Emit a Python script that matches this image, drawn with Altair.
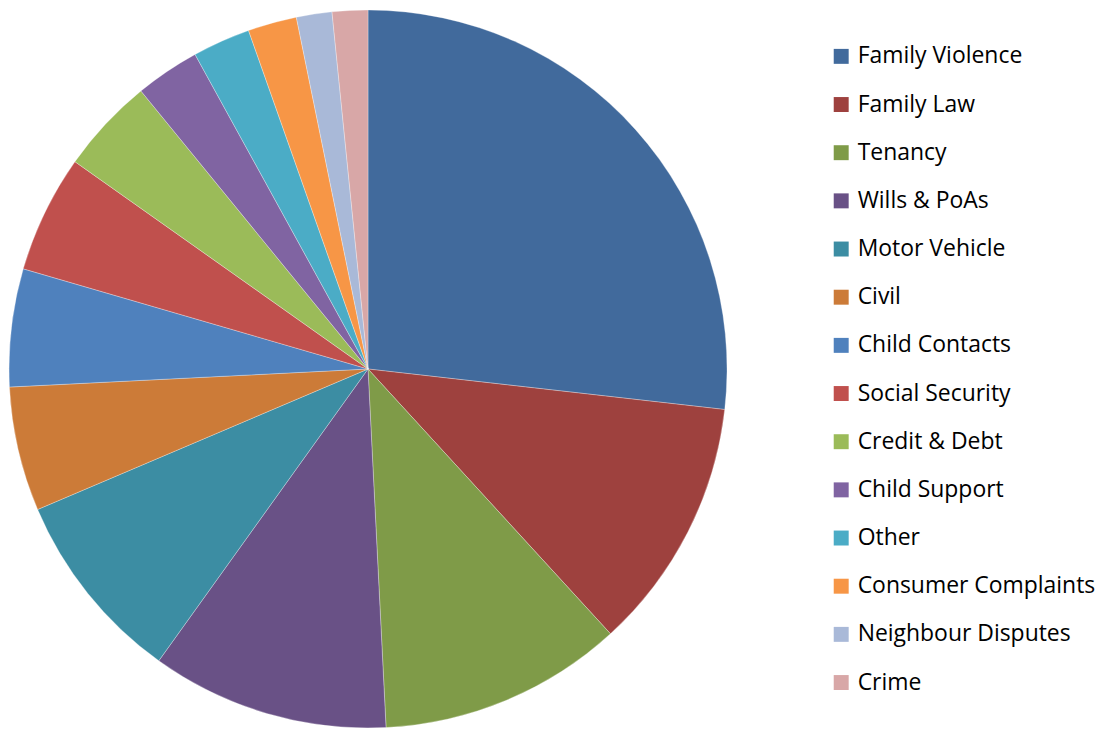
import altair as alt
import pandas as pd

categories = ["Family Violence", "Family Law", "Tenancy", "Wills & PoAs", "Motor Vehicle",
              "Civil", "Child Contacts", "Social Security", "Credit & Debt", "Child Support",
              "Other", "Consumer Complaints", "Neighbour Disputes", "Crime"]
values = [26.8, 11.4, 11.0, 10.7, 8.7, 5.6, 5.3, 5.3, 4.3, 2.9, 2.6, 2.2, 1.6, 1.6]
colors = ["#416A9C", "#9E413E", "#7F9B48", "#695186", "#3C8DA3", "#CC7B38", "#4F81BD",
          "#C0504D", "#9BBB59", "#8064A2", "#4BACC6", "#F79646", "#A9B9D8", "#D8A7A7"]

df = pd.DataFrame({"category": categories, "value": values, "idx": list(range(len(categories)))})

chart = alt.Chart(df).mark_arc(outerRadius=360, stroke="white", strokeWidth=0.3).encode(
    theta=alt.Theta("value:Q", stack=True),
    order=alt.Order("idx:Q"),
    color=alt.Color("category:N",
                    scale=alt.Scale(domain=categories, range=colors),
                    legend=alt.Legend(title=None, orient="none", legendX=824, legendY=35,
                                      symbolType="square", symbolSize=225, symbolStrokeWidth=0,
                                      labelFont="Open Sans", labelFontSize=23, labelColor="#000000",
                                      rowPadding=24.3, labelOffset=5, labelLimit=400)),
).properties(width=722, height=720, padding=0).configure_view(stroke=None)

chart.save("out.html", embed_options={"renderer": "svg", "actions": False})
